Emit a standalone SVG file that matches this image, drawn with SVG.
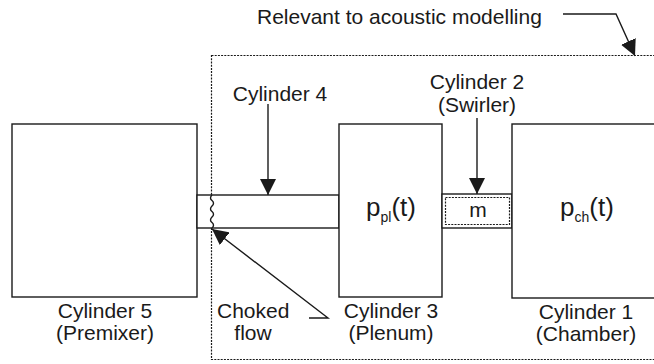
<svg xmlns="http://www.w3.org/2000/svg" width="654" height="364" viewBox="0 0 654 364">
  <style>
    .box { fill: #fff; stroke: #1a1a1a; stroke-width: 1.4; }
    .edge { fill: none; stroke: #1a1a1a; stroke-width: 1.4; }
    .dash { fill: none; stroke: #1a1a1a; stroke-width: 1.2; stroke-dasharray: 2 1.2; }
    .lbl { font-family: "Liberation Sans", Arial, sans-serif; font-size: 21px; fill: #1a1a1a; }
    .big { font-family: "Liberation Sans", Arial, sans-serif; font-size: 26px; fill: #1a1a1a; }
    .sub { font-size: 14px; }
    .mid { text-anchor: middle; }
  </style>
  <defs>
    <marker id="head" viewBox="0 0 16 16" markerWidth="16" markerHeight="16" refX="16" refY="8" orient="auto" markerUnits="userSpaceOnUse">
      <path d="M0,0 L16,8 L0,16 z" fill="#1a1a1a"/>
    </marker>
  </defs>

  <!-- boundary of the acoustic model -->
  <rect class="dash" x="211.5" y="55.5" width="460" height="304"/>

  <g id="cyl5">
    <rect class="box" x="12" y="124" width="185" height="173"/>
    <text class="lbl mid" x="105" y="318">Cylinder 5</text>
    <text class="lbl mid" x="105" y="340">(Premixer)</text>
  </g>

  <g id="cyl4">
    <rect class="box" x="197" y="195" width="142" height="33"/>
    <!-- choked-flow interface -->
    <path class="edge" stroke-width="1.1" d="M212,195 q-3,3 0,5.5 q3,2.5 0,5.5 q-3,3 0,5.5 q3,2.5 0,5.5 q-3,3 0,5.5 q3,2.5 0,5.5"/>
    <text class="lbl mid" x="280" y="101">Cylinder 4</text>
  </g>

  <g id="cyl3">
    <rect class="box" x="339" y="124" width="103" height="173"/>
    <text class="big" x="366" y="216">p<tspan class="sub" dy="6">pl</tspan><tspan dy="-6">(t)</tspan></text>
    <text class="lbl mid" x="391" y="318">Cylinder 3</text>
    <text class="lbl mid" x="391" y="340">(Plenum)</text>
  </g>

  <g id="cyl2">
    <rect class="box" x="442" y="194" width="70" height="34"/>
    <rect class="dash" x="445.5" y="197.5" width="64" height="27"/>
    <text class="lbl mid" x="478" y="217">m</text>
    <text class="lbl mid" x="477" y="89">Cylinder 2</text>
    <text class="lbl mid" x="477" y="112">(Swirler)</text>
  </g>

  <g id="cyl1">
    <rect class="box" x="512" y="124" width="160" height="174"/>
    <text class="big" x="560" y="216">p<tspan class="sub" dy="6">ch</tspan><tspan dy="-6">(t)</tspan></text>
    <text class="lbl mid" x="586" y="319">Cylinder 1</text>
    <text class="lbl mid" x="586" y="341">(Chamber)</text>
  </g>

  <g id="note">
    <text class="lbl" x="257" y="24">Relevant to acoustic modelling</text>
    <text class="lbl" x="217" y="318">Choked</text>
    <text class="lbl mid" x="253" y="340">flow</text>
  </g>

  <g id="connectors">
    <line class="edge" x1="268" y1="104" x2="268" y2="195" marker-end="url(#head)"/>
    <line class="edge" x1="477" y1="118" x2="477" y2="194" marker-end="url(#head)"/>
    <polyline class="edge" points="309,318 328,318 212,229" marker-end="url(#head)"/>
    <polyline class="edge" points="563,14 616,14 635,56" marker-end="url(#head)"/>
  </g>
</svg>
